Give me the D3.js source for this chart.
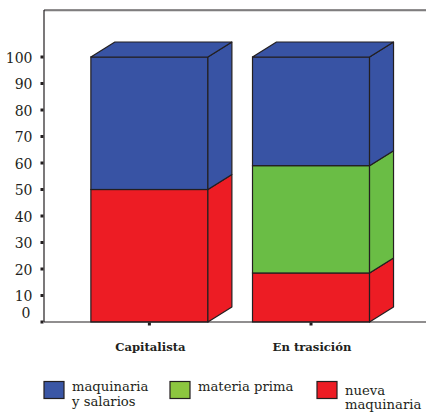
<!DOCTYPE html>
<html>
<head>
<meta charset="utf-8">
<script src="https://cdn.jsdelivr.net/npm/d3@7"></script>
<style>
  body { margin: 0; background: #fff; }
  svg { display: block; }
</style>
</head>
<body>
<div id="graph"></div>
<script>
const categories = ["Capitalista", "En trasición"];
const seriesNames = ["nueva maquinaria", "materia prima", "maquinaria y salarios"];
const nuevaMaquinaria = [50, 18.5];
const materiaPrima = [0, 40.5];
const maquinariaSalarios = [50, 41];
const yTicks = [0, 10, 20, 30, 40, 50, 60, 70, 80, 90, 100];

const barColors = ["#ed1c24", "#6abd45", "#3853a4"];
const legendColors = { "maquinaria y salarios": "#3a56a5", "materia prima": "#8cc63f", "nueva maquinaria": "#ed1c24" };

const FONT = "'DejaVu Serif', 'Liberation Serif', serif";
const W = 426, H = 413;
const dx = 24, dy = 15;

const svg = d3.select("#graph").append("svg")
  .attr("width", W).attr("height", H)
  .attr("font-family", FONT);

const y = d3.scaleLinear().domain([0, 100]).range([322, 57]);
const x = d3.scaleBand().domain(categories)
  .range([44, 416.4]).paddingInner(0.276).paddingOuter(0.29);

// frame
svg.append("line").attr("x1", 44).attr("x2", 426).attr("y1", 11).attr("y2", 11)
  .attr("stroke", "#bbb").attr("stroke-width", 1);
svg.append("line").attr("x1", 44).attr("x2", 426).attr("y1", 10).attr("y2", 10)
  .attr("stroke", "#231f20").attr("stroke-width", 1.2);
svg.append("line").attr("x1", 44).attr("x2", 44).attr("y1", 10).attr("y2", 322)
  .attr("stroke", "#231f20").attr("stroke-width", 1.2);

// stacked data
const rows = categories.map((c, i) => ({
  cat: c,
  "nueva maquinaria": nuevaMaquinaria[i],
  "materia prima": materiaPrima[i],
  "maquinaria y salarios": maquinariaSalarios[i]
}));
const stack = d3.stack().keys(seriesNames)(rows);

const bars = svg.append("g");
categories.forEach((c, ci) => {
  const x0 = x(c), x1 = x(c) + x.bandwidth();
  const segs = stack.map((s, si) => ({ lo: s[ci][0], hi: s[ci][1], color: barColors[si] }))
    .filter(d => d.hi > d.lo);
  segs.forEach((d, k) => {
    const yt = y(d.hi), yb = y(d.lo);
    bars.append("rect")
      .attr("x", x0).attr("y", yt).attr("width", x1 - x0).attr("height", yb - yt)
      .attr("fill", d.color).attr("stroke", "#231f20").attr("stroke-width", 1.2);
    bars.append("polygon")
      .attr("points", [[x1, yb], [x1 + dx, yb - dy], [x1 + dx, yt - dy], [x1, yt]].join(" "))
      .attr("fill", d.color).attr("stroke", "#231f20").attr("stroke-width", 1.2)
      .attr("stroke-linejoin", "round");
    if (k === segs.length - 1) {
      bars.append("polygon")
        .attr("points", [[x0, yt], [x0 + dx, yt - dy], [x1 + dx, yt - dy], [x1, yt]].join(" "))
        .attr("fill", d.color).attr("stroke", "#231f20").attr("stroke-width", 1.2)
        .attr("stroke-linejoin", "round");
    }
  });
});

// x axis baseline
svg.append("line").attr("x1", 44).attr("x2", 426).attr("y1", 322).attr("y2", 322)
  .attr("stroke", "#231f20").attr("stroke-width", 1.2);

// y ticks
const yAxis = svg.append("g");
yTicks.forEach(t => {
  yAxis.append("rect").attr("x", 40.5).attr("y", y(t) - 1.5).attr("width", 3).attr("height", 3)
    .attr("fill", "#231f20");
  yAxis.append("text")
    .attr("x", t === 0 ? 30.5 : 32.5).attr("y", y(t) + (t === 0 ? -4 : 5.5))
    .attr("text-anchor", "end").attr("font-size", 14).attr("fill", "#231f20")
    .attr("font-family", FONT)
    .text(t);
});

// x ticks + labels
categories.forEach(c => {
  const cx = x(c) + x.bandwidth() / 2;
  svg.append("rect").attr("x", cx - 1.5).attr("y", 322.5).attr("width", 3).attr("height", 3)
    .attr("fill", "#231f20");
  svg.append("text")
    .attr("x", cx + 1).attr("y", 351)
    .attr("text-anchor", "middle").attr("font-size", 11.6).attr("font-weight", "bold")
    .attr("fill", "#231f20").attr("font-family", FONT)
    .text(c);
});

// legend
const legendItems = [
  { name: "maquinaria y salarios", lines: ["maquinaria", "y salarios"], x: 44, base: 391, gap: 15 },
  { name: "materia prima", lines: ["materia prima"], x: 170, base: 391, gap: 15 },
  { name: "nueva maquinaria", lines: ["nueva", "maquinaria"], x: 317, base: 395, gap: 14 }
];
legendItems.forEach(it => {
  svg.append("rect").attr("x", it.x).attr("y", 381.5).attr("width", 20).attr("height", 17)
    .attr("fill", legendColors[it.name]).attr("stroke", "#231f20").attr("stroke-width", 1.2);
  const t = svg.append("text").attr("x", it.x + 28).attr("y", it.base)
    .attr("font-size", 13.2).attr("fill", "#231f20").attr("font-family", FONT);
  it.lines.forEach((l, i) => {
    t.append("tspan").attr("x", it.x + 28).attr("dy", i === 0 ? 0 : it.gap).text(l);
  });
});
</script>
</body>
</html>
